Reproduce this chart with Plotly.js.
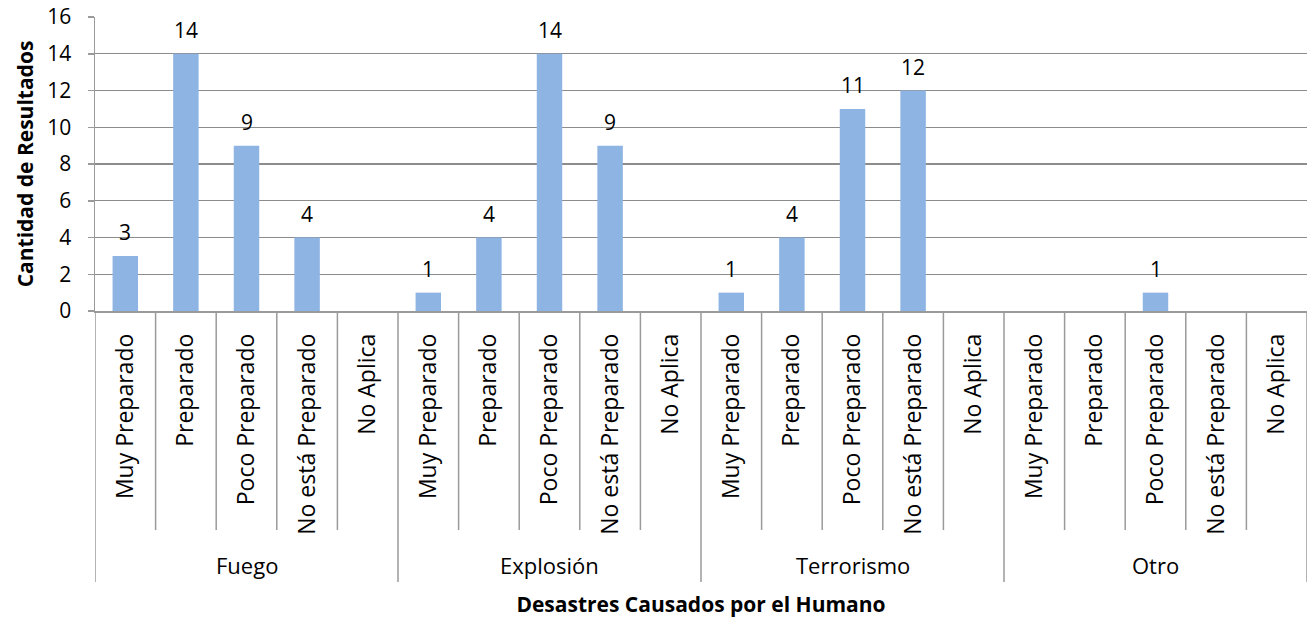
<!DOCTYPE html>
<html><head><meta charset="utf-8">
<script src="https://cdn.plot.ly/plotly-3.0.1.min.js"></script>
<style>html,body{margin:0;padding:0;background:#fff}</style>
</head><body>
<div id="chart" style="width:1315px;height:618px"></div>
<script>
const groups = ["Fuego", "Explosión", "Terrorismo", "Otro"];
const levels = ["Muy Preparado", "Preparado", "Poco Preparado", "No está Preparado", "No Aplica"];
const fuego = [3, 14, 9, 4, null];
const explosion = [1, 4, 14, 9, null];
const terrorismo = [1, 4, 11, 12, null];
const otro = [null, null, 1, null, null];
const seriesByGroup = [fuego, explosion, terrorismo, otro];

const xIdx = [], tickText = [], yVals = [];
groups.forEach((g, gi) => {
  levels.forEach((l, li) => {
    xIdx.push(gi * levels.length + li);
    tickText.push(l);
    yVals.push(seriesByGroup[gi][li]);
  });
});

const font = "'Open Sans', sans-serif";
const lineCol = "#9a9a9a";
const subSepBottom = -0.745, groupSepBottom = -0.922, groupLabelY = -0.864;

const shapes = [];
for (let i = 0; i <= xIdx.length; i++) {
  const isGroup = i % levels.length === 0;
  shapes.push({
    type: "line", xref: "x", yref: "paper",
    x0: i - 0.5, x1: i - 0.5, y0: 0, y1: isGroup ? groupSepBottom : subSepBottom,
    line: {color: lineCol, width: 1.5}
  });
}
const annotations = groups.map((g, gi) => ({
  xref: "x", yref: "paper", x: gi * levels.length + (levels.length - 1) / 2, y: groupLabelY,
  text: g, showarrow: false, font: {family: font, size: 22, color: "#000"},
  xanchor: "center", yanchor: "middle"
}));
// value labels above bars
xIdx.forEach((x, i) => {
  const v = yVals[i];
  if (v == null) return;
  annotations.push({
    xref: "x", yref: "y", x: x, y: v, text: String(v), showarrow: false,
    xanchor: "center", yanchor: "bottom", yshift: 8,
    font: {family: font, size: 21, color: "#000"}
  });
});

const trace = {
  type: "bar",
  x: xIdx,
  y: yVals,
  marker: {color: "#8DB4E2"},
  width: 0.42,
  hoverinfo: "skip"
};
const layout = {
  width: 1315, height: 618,
  margin: {l: 95, r: 8, t: 17, b: 307},
  paper_bgcolor: "#fff", plot_bgcolor: "#fff",
  showlegend: false,
  font: {family: font, size: 20, color: "#000"},
  shapes: shapes,
  annotations: annotations,
  xaxis: {
    range: [-0.5, xIdx.length - 0.5],
    tickmode: "array", tickvals: xIdx, ticktext: tickText,
    tickangle: -90,
    tickfont: {family: font, size: 23, color: "#000"},
    ticks: "", ticklabelstandoff: 12,
    showline: true, linecolor: lineCol, linewidth: 1.5,
    showgrid: false, zeroline: false,
    automargin: false,
    title: {text: "Desastres Causados por el Humano", font: {family: font, size: 21, color: "#000", weight: "bold"}, standoff: 82}
  },
  yaxis: {
    range: [0, 16], dtick: 2,
    tickfont: {family: font, size: 21, color: "#000"},
    showgrid: true, gridcolor: "#8c8c8c", gridwidth: 1.3,
    zeroline: false,
    showline: true, linecolor: lineCol, linewidth: 1.5,
    ticks: "outside", ticklen: 6, tickcolor: lineCol, tickwidth: 1.5,
    ticklabelstandoff: 12,
    automargin: false,
    title: {text: "Cantidad de Resultados", font: {family: font, size: 21, color: "#000", weight: "bold"}, standoff: 8}
  }
};
Plotly.newPlot("chart", [trace], layout, {displayModeBar: false, staticPlot: true});
</script>
</body></html>
